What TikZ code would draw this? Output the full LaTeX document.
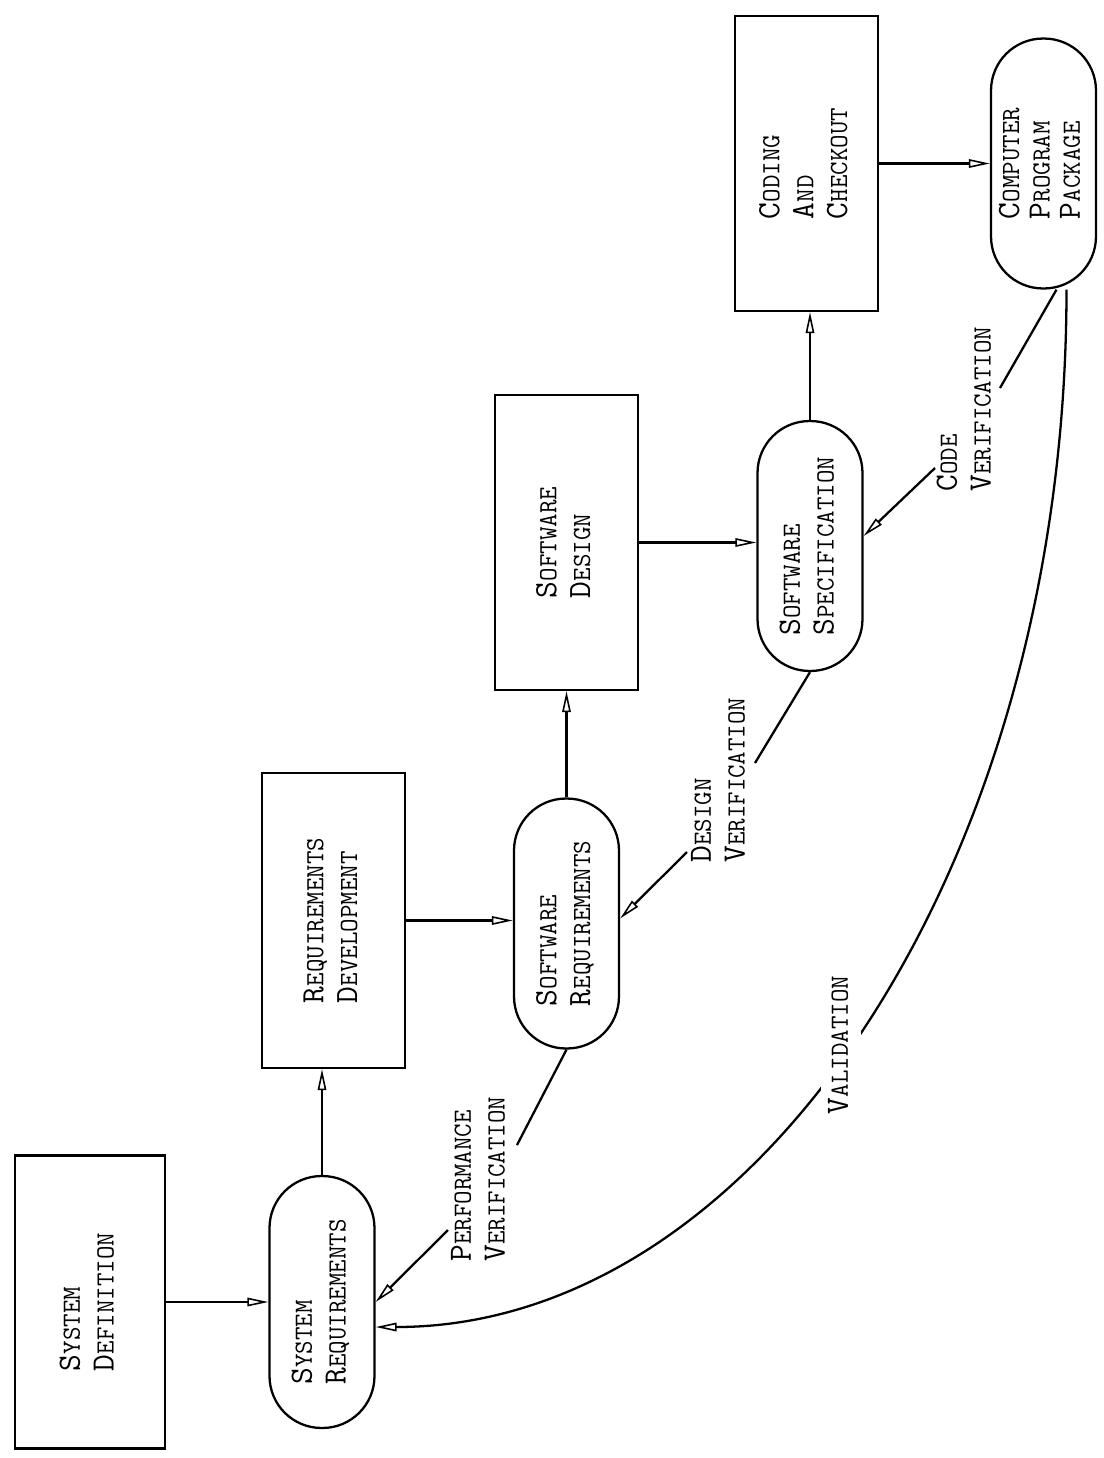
\documentclass[tikz,border=0pt]{standalone}
\usepackage{fontspec}
\usepackage{graphicx}
\usetikzlibrary{arrows.meta,calc}
\newcommand\txt[1]{\rotatebox{90}{\begin{tabular}{@{}l@{}}#1\end{tabular}}}
\newcommand\I[1]{{\fontsize{18.5}{19.3}\selectfont #1}}
\begin{document}
\begin{tikzpicture}[x=0.02cm,y=-0.02cm,
  every node/.style={inner sep=0pt, font=\ttfamily\addfontfeature{FakeBold=1}\fontsize{14.9}{19.3}\selectfont},
  box/.style={draw, line width=1.3pt, minimum width=2.86cm, minimum height=5.9cm},
  pill/.style={draw, line width=1.3pt, minimum width=2.1cm, minimum height=5cm, rounded corners=1.04cm},
  lab/.style={anchor=south},
  arr/.style={line width=1.3pt, -{Triangle[open,length=0.42cm,width=0.17cm,line width=0.9pt]}},
  ln/.style={line width=1.3pt}]
\fill[white] (0,0) rectangle (1103,1458);
\useasboundingbox (0,0) rectangle (1103,1458);

% nodes
\node[box, minimum width=3cm, minimum height=5.86cm] (sysdef) at (90,1302)
  {\addfontfeature{LetterSpace=14}\txt{\I{S}YSTEM\\\I{D}EFINITION}};
\node[pill, minimum height=5.04cm] (sysreq) at (322,1302) {\txt{\I{S}YSTEM\\\I{R}EQUIREMENTS}};
\node[box] (reqdev) at (333.5,920.5) {\txt{\I{R}EQUIREMENTS\\\I{D}EVELOPMENT}};
\node[pill] (swreq) at (566.5,923.5) {\txt{\I{S}OFTWARE\\\I{R}EQUIREMENTS}};
\node[box] (swdes) at (566.5,542.5) {\txt{\I{S}OFTWARE\\\I{D}ESIGN}};
\node[pill] (swspec) at (810,546) {\txt{\I{S}OFTWARE\\\I{S}PECIFICATION}};
\node[box] (coding) at (806.5,163.5) {\txt{\I{C}ODING\\\I{A}ND\\\I{C}HECKOUT}};
\node[pill] (cpp) at (1043.5,163.5) {\fontsize{14.9}{17.3}\selectfont\txt{\I{C}OMPUTER\\\I{P}ROGRAM\\\I{P}ACKAGE}};

% main flow
\draw[arr] (sysdef.east) -- (sysdef.east -| sysreq.west);
\draw[arr] (sysreq.north) -- (sysreq.north |- reqdev.south);
\draw[arr] (reqdev.east) -- (reqdev.east -| swreq.west);
\draw[arr] (swreq.north) -- (swreq.north |- swdes.south);
\draw[arr] (swdes.east) -- (swdes.east -| swspec.west);
\draw[arr] (swspec.north) -- (swspec.north |- coding.south);
\draw[arr] (coding.east) -- (coding.east -| cpp.west);

% performance verification
\coordinate (pv1) at (517,1145);
\coordinate (pv2) at (448,1230);
\draw[ln] (swreq.south) -- (pv1);
\draw[arr] (pv2) -- (sysreq.east);
\node[lab] (pvlab) at (481,1262) {\txt{\I{P}ERFORMANCE\\\I{V}ERIFICATION}};

% design verification
\coordinate (dv1) at (755,763);
\coordinate (dv2) at (687,852);
\draw[ln] (swspec.south) -- (dv1);
\draw[arr] (dv2) -- ($(swreq.east)+(0,-5)$);
\node[lab] (dvlab) at (721,863) {\txt{\I{D}ESIGN\\\I{V}ERIFICATION}};

% code verification
\coordinate (cv1) at (1000,388);
\coordinate (cv2) at (935,468);
\draw[ln] ($(cpp.south)+(13,0)$) -- (cv1);
\draw[arr] (cv2) -- ($(swspec.east)+(0,-10)$);
\node[lab] (cvlab) at (967,492) {\txt{\I{C}ODE\\\I{V}ERIFICATION}};

% validation
\draw[arr] ($(cpp.south)+(23,0)$) .. controls +(0,574) and +(383,0) .. ($(sysreq.east)+(0,25)$);
\node[lab, fill=white, inner sep=1.5pt] (vlab) at (841,1117) {\txt{\I{V}ALIDATION}};
\end{tikzpicture}
\end{document}
